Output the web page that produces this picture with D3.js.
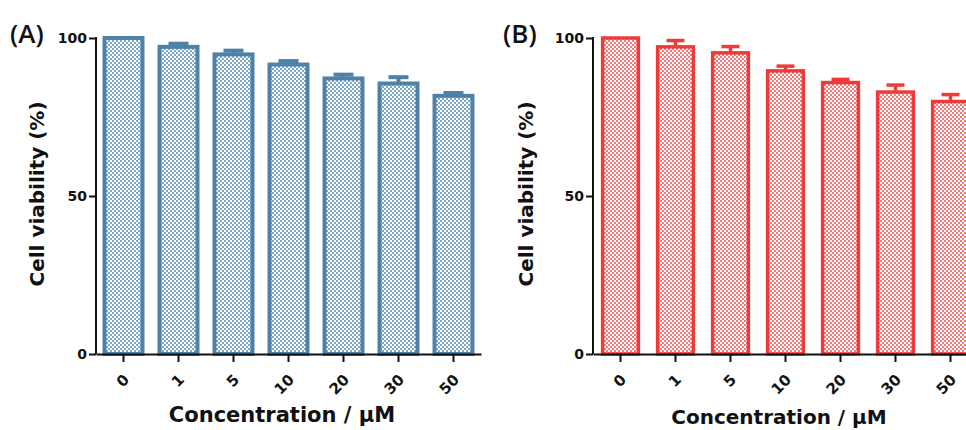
<!DOCTYPE html>
<html>
<head>
<meta charset="utf-8">
<script src="https://cdn.jsdelivr.net/npm/d3@7"></script>
<style>
  body { margin: 0; background: #fff; }
  svg { display: block; }
</style>
</head>
<body>
<script>
// data
var concentrations = ["0", "1", "5", "10", "20", "30", "50"];
var viabilityA = [100, 97.2, 94.8, 91.6, 87.2, 85.6, 81.7];
var errorA = [0, 1.0, 1.2, 1.1, 1.2, 2.0, 0.9];
var viabilityB = [100, 97.2, 95.3, 89.6, 85.9, 82.9, 79.9];
var errorB = [0, 2.0, 2.0, 1.5, 1.0, 2.2, 2.2];
var yTicks = [0, 50, 100];

var labelFont = "'DejaVu Sans', Verdana, sans-serif";

var svg = d3.select("body").append("svg")
    .attr("width", 966)
    .attr("height", 430);

var defs = svg.append("defs");

function addPattern(id, color) {
    var p = defs.append("pattern")
        .attr("id", id)
        .attr("patternUnits", "userSpaceOnUse")
        .attr("width", 4)
        .attr("height", 4);
    p.append("rect").attr("width", 4).attr("height", 4).attr("fill", "#fff");
    p.append("rect").attr("width", 2).attr("height", 2).attr("fill", color);
    p.append("rect").attr("x", 2).attr("y", 2).attr("width", 2).attr("height", 2).attr("fill", color);
}
addPattern("checkA", "#7ea6c6");
addPattern("checkB", "#f67878");

function drawPanel(opt) {
    var x = d3.scaleBand()
        .domain(concentrations)
        .range([opt.left, opt.left + 385])
        .paddingInner(opt.pad)
        .paddingOuter(opt.pad / 2);

    var y = d3.scaleLinear().domain([0, 100]).range([354, 38]);

    var rows = concentrations.map(function (c, i) {
        return {c: c, v: opt.values[i], e: opt.errors[i]};
    });

    var g = svg.append("g");

    // error bars (upper only), stem hidden behind bar top
    var eb = g.selectAll("g.err")
        .data(rows.filter(function (d) { return d.e > 0; }))
        .enter().append("g")
        .attr("class", "err")
        .attr("stroke", opt.color)
        .attr("stroke-width", opt.sw);

    eb.append("line")
        .attr("x1", function (d) { return x(d.c) + x.bandwidth() / 2; })
        .attr("x2", function (d) { return x(d.c) + x.bandwidth() / 2; })
        .attr("y1", function (d) { return y(d.v); })
        .attr("y2", function (d) { return y(d.v + d.e); });

    eb.append("line")
        .attr("x1", function (d) { return x(d.c) + x.bandwidth() / 2 - opt.cap / 2; })
        .attr("x2", function (d) { return x(d.c) + x.bandwidth() / 2 + opt.cap / 2; })
        .attr("y1", function (d) { return y(d.v + d.e); })
        .attr("y2", function (d) { return y(d.v + d.e); });

    // bars
    g.selectAll("rect.bar")
        .data(rows)
        .enter().append("rect")
        .attr("class", "bar")
        .attr("x", function (d) { return x(d.c); })
        .attr("y", function (d) { return y(d.v); })
        .attr("width", x.bandwidth())
        .attr("height", function (d) { return y(0) - y(d.v); })
        .attr("fill", "url(#" + opt.pattern + ")")
        .attr("stroke", opt.color)
        .attr("stroke-width", opt.sw);

    // y axis
    var ya = g.append("g")
        .attr("transform", "translate(" + opt.left + ",0)")
        .call(d3.axisLeft(y).tickValues(yTicks).tickSize(7).tickPadding(2));
    ya.selectAll("path, line").attr("stroke", "#111").attr("stroke-width", 2);
    ya.select(".domain").attr("d", "M0," + y(0) + "V" + (y(100) - 1));
    ya.selectAll("text")
        .attr("fill", "#111")
        .style("font-family", labelFont)
        .style("font-weight", "bold")
        .style("font-size", "14px");

    // x axis
    var xa = g.append("g")
        .attr("transform", "translate(0," + y(0) + ")")
        .call(d3.axisBottom(x).tickSize(8).tickSizeOuter(0));
    xa.selectAll("path, line").attr("stroke", "#111").attr("stroke-width", 2);
    xa.selectAll("text")
        .attr("fill", "#111")
        .attr("text-anchor", "end")
        .attr("y", 0)
        .attr("dy", "0.35em")
        .attr("transform", "translate(3,23) rotate(-45)")
        .style("font-family", labelFont)
        .style("font-weight", "bold")
        .style("font-size", "15px");

    // titles
    g.append("text")
        .attr("transform", "translate(" + opt.ytx + ",194) rotate(-90)")
        .attr("text-anchor", "middle")
        .attr("fill", "#111")
        .style("font-family", labelFont)
        .style("font-weight", "bold")
        .style("font-size", "20px")
        .text("Cell viability (%)");

    g.append("text")
        .attr("x", opt.xtx)
        .attr("y", opt.xty)
        .attr("text-anchor", "middle")
        .attr("fill", "#111")
        .style("font-family", labelFont)
        .style("font-weight", "bold")
        .style("font-size", opt.xfs + "px")
        .text("Concentration / \u03bcM");

    g.append("text")
        .attr("x", opt.labx)
        .attr("y", 43)
        .attr("fill", "#111")
        .style("font-family", "'Open Sans', sans-serif")
        .style("font-weight", "600")
        .style("font-size", "26px")
        .text(opt.label);
}

drawPanel({
    left: 96, values: viabilityA, errors: errorA, color: "#4d81a8",
    pattern: "checkA", pad: 0.31, sw: 4, cap: 20,
    ytx: 44, xtx: 282, xty: 422, xfs: 21, labx: 10, label: "(A)"
});

drawPanel({
    left: 593, values: viabilityB, errors: errorB, color: "#f03a3a",
    pattern: "checkB", pad: 0.35, sw: 3.5, cap: 18,
    ytx: 533, xtx: 779, xty: 424, xfs: 20, labx: 503, label: "(B)"
});
</script>
</body>
</html>
